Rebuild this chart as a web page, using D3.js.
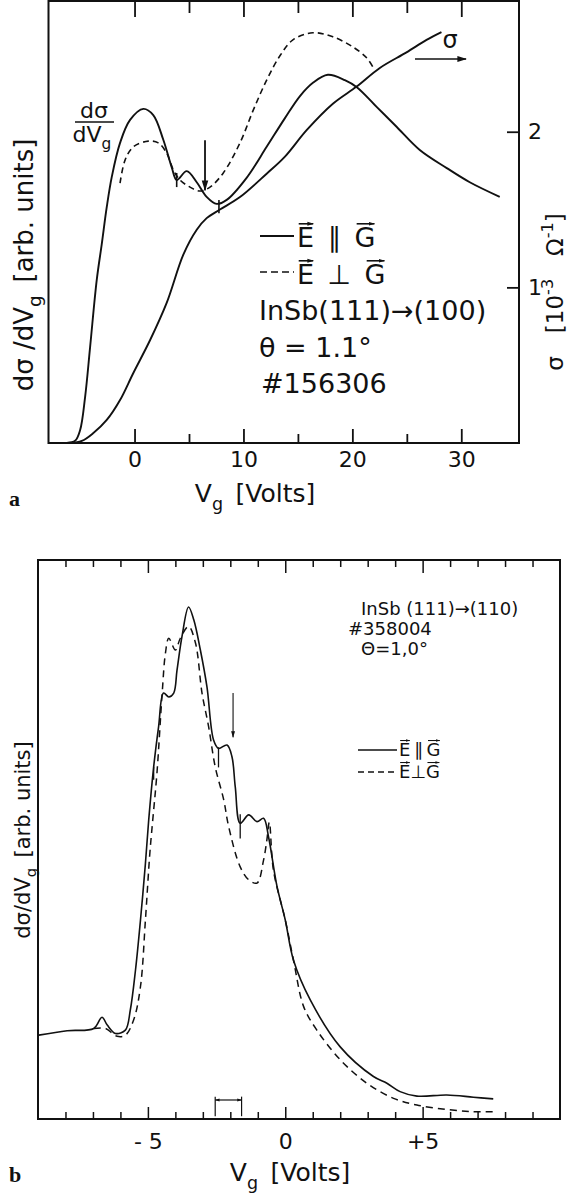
<!DOCTYPE html>
<html>
<head>
<meta charset="utf-8">
<script src="https://cdn.jsdelivr.net/npm/d3@7"></script>
<style>
  body { margin: 0; background: #fff; }
  svg text { font-family: "DejaVu Sans", "Liberation Sans", sans-serif; fill: #111; }
  .serif { font-family: "Liberation Serif", "DejaVu Serif", serif !important; font-weight: bold; }
</style>
</head>
<body>
<script>
// ---------- panel a : InSb(111)->(100), V_g in volts ----------
// dsigma/dV_g, E parallel G (arb. units)
const aParV = [-6.8, -6.38, -5.46, -5.0, -4.54, -4.08, -3.47, -3.01, -2.55, -2.09, -1.33, -0.41, 0.81, 1.72, 2.64, 3.41, 3.87, 4.79, 5.71, 6.62, 7.54, 8.46, 10.29, 12.13, 13.81, 15.19, 16.38, 17.75, 19.31, 20.41, 22.25, 24.08, 26.19, 28.67, 30.78, 33.53];
const aParD = [0, 0, 0.05, 0.29, 1.04, 2.17, 3.69, 4.5, 5.34, 6.02, 6.79, 7.31, 7.56, 7.42, 6.86, 6.24, 5.95, 6.15, 5.90, 5.57, 5.41, 5.50, 6.0, 6.7, 7.35, 7.85, 8.15, 8.33, 8.21, 8.05, 7.60, 7.15, 6.63, 6.22, 5.90, 5.57];
// dsigma/dV_g, E perpendicular G
const aPerpV = [-1.33, -0.87, -0.11, 1.27, 2.18, 2.95, 3.56, 4.17, 5.09, 6.01, 6.93, 8.15, 9.68, 10.90, 12.13, 13.35, 14.54, 16.38, 18.21, 20.05, 21.33, 21.88];
const aPerpD = [5.88, 6.40, 6.70, 6.83, 6.79, 6.56, 6.18, 5.95, 5.79, 5.70, 5.79, 6.11, 6.79, 7.53, 8.21, 8.76, 9.12, 9.28, 9.19, 8.96, 8.71, 8.51];
// sigma (10^-3 1/Ohm), right axis
const aSigV = [-5.92, -4.84, -3.78, -2.55, -1.33, -0.11, 1.42, 2.95, 4.48, 5.71, 6.62, 7.84, 9.68, 12.13, 13.81, 15.80, 18.21, 20.39, 22.52, 24.97, 26.81, 28.18];
const aSigS = [0, 0.013, 0.064, 0.148, 0.276, 0.45, 0.66, 0.90, 1.21, 1.37, 1.445, 1.50, 1.58, 1.73, 1.84, 2.01, 2.18, 2.29, 2.41, 2.51, 2.59, 2.64];
const aMajor = [0, 10, 20, 30];
const aMinor = [5, 15, 25];
const aSigTicks = [1, 2];
// marks on the curves: [V, upper, lower] in arb. units
const aArrows = [[6.47, 6.85, 5.72]];
const aMarks = [[3.87, 6.11, 5.79], [7.75, 5.5, 5.2]];

// ---------- panel b : InSb(111)->(110) ----------
const bParV = [-8.97, -7.94, -6.97, -6.67, -6.48, -6.18, -5.82, -5.64, -5.45, -5.27, -5.09, -4.97, -4.79, -4.61, -4.43, -4.24, -4.06, -3.94, -3.76, -3.52, -3.33, -3.09, -2.85, -2.61, -2.43, -2.12, -1.94, -1.82, -1.64, -1.33, -1.03, -0.79, -0.61, -0.30, 0, 0.30, 0.91, 2.0, 3.21, 3.70, 4.18, 4.79, 5.88, 6.85, 7.57];
const bParD = [1.50, 1.58, 1.62, 1.82, 1.68, 1.53, 1.59, 1.95, 2.67, 3.56, 4.57, 5.35, 6.30, 7.02, 7.62, 7.55, 7.62, 8.03, 8.63, 9.16, 8.93, 8.39, 7.73, 6.78, 6.63, 6.69, 6.48, 5.94, 5.29, 5.44, 5.32, 5.38, 5.05, 4.16, 3.56, 2.84, 2.13, 1.29, 0.76, 0.64, 0.49, 0.41, 0.43, 0.39, 0.36];
const bPerpV = [-6.97, -6.55, -6.12, -5.82, -5.52, -5.27, -5.09, -4.93, -4.84, -4.67, -4.48, -4.36, -4.24, -4.0, -3.82, -3.52, -3.27, -3.03, -2.79, -2.55, -2.24, -2.06, -1.64, -1.33, -1.03, -0.79, -0.67, -0.58, -0.43, 0, 0.30, 0.67, 1.15, 2.0, 2.97, 3.94, 4.79, 5.88, 6.85, 7.64];
const bPerpD = [1.62, 1.62, 1.48, 1.50, 1.77, 2.37, 3.56, 4.75, 5.26, 6.19, 7.62, 8.34, 8.60, 8.39, 8.60, 8.81, 8.52, 7.62, 7.02, 6.30, 5.71, 5.23, 4.51, 4.28, 4.22, 4.63, 4.99, 5.31, 4.45, 3.56, 2.84, 2.01, 1.59, 1.06, 0.64, 0.37, 0.25, 0.17, 0.13, 0.13];
const bMajor = [-5, 0, 5];
const bMinor = [-8, -7, -6, -4, -3, -2, -1, 1, 2, 3, 4, 6, 7, 8, 9];
const bArrows = [[-1.90, 7.62, 6.83]];
const bMarks = [[-2.43, 6.65, 6.29], [-1.64, 5.45, 5.02], [-4.79, 6.30, 6.07]];
const bBracket = [-2.55, -1.59, 0.34];

const W = 570, H = 1194;
const SP = "\u2002";
const svg = d3.select("body").append("svg").attr("width", W).attr("height", H);
svg.append("rect").attr("width", W).attr("height", H).attr("fill", "#fff");

let defs = svg.append("defs");
function addHead(id, w) {
    defs.append("marker").attr("id", id)
        .attr("viewBox", "0 0 10 10").attr("refX", 9).attr("refY", 5)
        .attr("markerWidth", w).attr("markerHeight", w)
        .attr("orient", "auto-start-reverse")
        .append("path").attr("d", "M0,2L10,5L0,8z").attr("fill", "#111");
}
addHead("head", 6);
addHead("vhead", 4);

const zip = (xs, ys) => xs.map((x, i) => [x, ys[i]]);

// text with sub / superscripts
function rich(text, parts, size) {
    let shift = 0;
    parts.forEach(p => {
        let t = text.append("tspan").text(p[0]);
        let want = p[1] === "sub" ? size * 0.3 : p[1] === "sup" ? -size * 0.45 : 0;
        if (want !== shift) { t.attr("dy", want - shift); shift = want; }
        if (p[1]) t.attr("font-size", size * 0.7);
    });
    return text;
}

// letters with a vector arrow above them
function vecText(g, x, y, size, parts, headId) {
    parts.forEach(p => {
        let t = g.append("text").attr("x", x).attr("y", y).attr("font-size", size).text(p.t);
        let w = t.node().getComputedTextLength();
        if (p.vec) {
            let ay = y - size * 0.86;
            g.append("line").attr("x1", x + w * 0.1).attr("x2", x + w * 0.95)
                .attr("y1", ay).attr("y2", ay)
                .attr("stroke", "#111").attr("stroke-width", Math.max(1, size * 0.06))
                .attr("marker-end", "url(#" + headId + ")");
        }
        x += w;
    });
}

function styleAxis(g, size) {
    g.select(".domain").remove();
    g.attr("font-family", null).attr("font-size", size);
    g.selectAll("line").attr("stroke", "#111").attr("stroke-width", 1.8);
    g.selectAll("text").attr("fill", "#111");
}

/* ============ panel a ============ */
const xA = d3.scaleLinear().domain([-7.9, 35.3]).range([48.5, 519]);
const yA = d3.scaleLinear().domain([0, 10]).range([443, 1]);
const sA = d3.scaleLinear().domain([0, 2.84]).range([443, 1]);
let ga = svg.append("g");

ga.append("g").attr("transform", "translate(0,443)")
    .call(d3.axisBottom(xA).tickValues(aMajor).tickSize(-14).tickPadding(8))
    .call(g => styleAxis(g, 22));
ga.append("g").attr("transform", "translate(0,443)")
    .call(d3.axisBottom(xA).tickValues(aMinor).tickSize(-9).tickFormat(""))
    .call(g => styleAxis(g, 22));
ga.append("g").attr("transform", "translate(0,1)")
    .call(d3.axisTop(xA).tickValues(aMajor).tickSize(-16).tickFormat(""))
    .call(g => styleAxis(g, 22));
ga.append("g").attr("transform", "translate(0,1)")
    .call(d3.axisTop(xA).tickValues(aMinor).tickSize(-12).tickFormat(""))
    .call(g => styleAxis(g, 22));
ga.append("g").attr("transform", "translate(519,0)")
    .call(d3.axisRight(sA).tickValues(aSigTicks).tickSize(-12).tickPadding(9).tickFormat(d3.format("d")))
    .call(g => styleAxis(g, 22));

ga.append("rect").attr("x", 48.5).attr("y", 1).attr("width", 519 - 48.5).attr("height", 442)
    .attr("fill", "none").attr("stroke", "#111").attr("stroke-width", 2);

let lineA = d3.line().x(d => xA(d[0])).y(d => yA(d[1])).curve(d3.curveCatmullRom.alpha(0.5));
let lineS = d3.line().x(d => xA(d[0])).y(d => sA(d[1])).curve(d3.curveCatmullRom.alpha(0.5));

ga.append("path").attr("d", lineA(zip(aParV, aParD)))
    .attr("fill", "none").attr("stroke", "#111").attr("stroke-width", 1.9);
ga.append("path").attr("d", lineA(zip(aPerpV, aPerpD)))
    .attr("fill", "none").attr("stroke", "#111").attr("stroke-width", 1.6).attr("stroke-dasharray", "6,4");
ga.append("path").attr("d", lineS(zip(aSigV, aSigS)))
    .attr("fill", "none").attr("stroke", "#111").attr("stroke-width", 1.9);

aArrows.forEach(a => {
    ga.append("line").attr("x1", xA(a[0])).attr("x2", xA(a[0]))
        .attr("y1", yA(a[1])).attr("y2", yA(a[2]))
        .attr("stroke", "#111").attr("stroke-width", 1.8).attr("marker-end", "url(#head)");
});
aMarks.forEach(m => {
    ga.append("line").attr("x1", xA(m[0])).attr("x2", xA(m[0]))
        .attr("y1", yA(m[1])).attr("y2", yA(m[2]))
        .attr("stroke", "#111").attr("stroke-width", 1.6);
});

// dsigma/dVg fraction next to the first peak
ga.append("text").attr("x", 94).attr("y", 118).attr("font-size", 22).attr("text-anchor", "middle").text("dσ");
ga.append("line").attr("x1", 75).attr("x2", 114).attr("y1", 122).attr("y2", 122)
    .attr("stroke", "#111").attr("stroke-width", 1.6);
rich(ga.append("text").attr("x", 92).attr("y", 142).attr("font-size", 22).attr("text-anchor", "middle"),
    [["dV"], ["g", "sub"]], 22);

// sigma -> right axis
ga.append("text").attr("x", 450).attr("y", 48).attr("font-size", 24).attr("text-anchor", "middle").text("σ");
ga.append("line").attr("x1", 415).attr("x2", 466).attr("y1", 59).attr("y2", 59)
    .attr("stroke", "#111").attr("stroke-width", 1.6).attr("marker-end", "url(#head)");

// legend
ga.append("line").attr("x1", 260).attr("x2", 294).attr("y1", 236).attr("y2", 236)
    .attr("stroke", "#111").attr("stroke-width", 1.9);
vecText(ga, 297, 247, 27, [{ t: "E", vec: true }, { t: SP + "∥" + SP }, { t: "G", vec: true }], "vhead");
ga.append("line").attr("x1", 260).attr("x2", 294).attr("y1", 272).attr("y2", 272)
    .attr("stroke", "#111").attr("stroke-width", 1.6).attr("stroke-dasharray", "7,4");
vecText(ga, 297, 284, 27, [{ t: "E", vec: true }, { t: SP + "⊥" + SP }, { t: "G", vec: true }], "vhead");
ga.append("text").attr("x", 259).attr("y", 320).attr("font-size", 27).text("InSb(111)→(100)");
ga.append("text").attr("x", 259).attr("y", 357).attr("font-size", 27).text("θ = 1.1°");
ga.append("text").attr("x", 261).attr("y", 393).attr("font-size", 27).text("#156306");

// axis titles
rich(ga.append("text").attr("font-size", 25).attr("text-anchor", "middle").attr("x", 255).attr("y", 502),
    [["V"], ["g", "sub"], [SP + "[Volts]"]], 25);
rich(ga.append("text").attr("font-size", 26).attr("text-anchor", "middle")
    .attr("transform", "translate(33,265) rotate(-90)"),
    [["dσ /dV"], ["g", "sub"], [SP + "[arb. units]"]], 26);
rich(ga.append("text").attr("font-size", 23).attr("text-anchor", "middle")
    .attr("transform", "translate(563,292) rotate(-90)"),
    [["σ" + SP + SP + "[10"], ["-3", "sup"], [SP + SP + "Ω"], ["-1", "sup"], ["]"]], 23);
ga.append("text").attr("class", "serif").attr("x", 9).attr("y", 506).attr("font-size", 22).text("a");

/* ============ panel b ============ */
const xB = d3.scaleLinear().domain([-9, 10]).range([38, 560]);
const yB = d3.scaleLinear().domain([0, 10]).range([1119, 560]);
let gb = svg.append("g");

const bFmt = d => d > 0 ? "+" + d : d < 0 ? "- " + Math.abs(d) : "0";
gb.append("g").attr("transform", "translate(0,1119)")
    .call(d3.axisBottom(xB).tickValues(bMajor).tickSize(-12).tickPadding(14).tickFormat(bFmt))
    .call(g => styleAxis(g, 22));
gb.append("g").attr("transform", "translate(0,1119)")
    .call(d3.axisBottom(xB).tickValues(bMinor).tickSize(-7).tickFormat(""))
    .call(g => styleAxis(g, 22));
gb.append("g").attr("transform", "translate(0,560)")
    .call(d3.axisTop(xB).tickValues(bMajor).tickSize(-13).tickFormat(""))
    .call(g => styleAxis(g, 22));
gb.append("g").attr("transform", "translate(0,560)")
    .call(d3.axisTop(xB).tickValues(bMinor).tickSize(-7).tickFormat(""))
    .call(g => styleAxis(g, 22));
gb.selectAll("line").attr("stroke-width", 1.5);

gb.append("rect").attr("x", 38).attr("y", 560).attr("width", 560 - 38).attr("height", 559)
    .attr("fill", "none").attr("stroke", "#111").attr("stroke-width", 2);

let lineB = d3.line().x(d => xB(d[0])).y(d => yB(d[1])).curve(d3.curveCatmullRom.alpha(0.5));
gb.append("path").attr("d", lineB(zip(bParV, bParD)))
    .attr("fill", "none").attr("stroke", "#111").attr("stroke-width", 1.6);
gb.append("path").attr("d", lineB(zip(bPerpV, bPerpD)))
    .attr("fill", "none").attr("stroke", "#111").attr("stroke-width", 1.5).attr("stroke-dasharray", "7,5");

bArrows.forEach(a => {
    gb.append("line").attr("x1", xB(a[0])).attr("x2", xB(a[0]))
        .attr("y1", yB(a[1])).attr("y2", yB(a[2]))
        .attr("stroke", "#111").attr("stroke-width", 1.1).attr("marker-end", "url(#head)");
});
bMarks.forEach(m => {
    gb.append("line").attr("x1", xB(m[0])).attr("x2", xB(m[0]))
        .attr("y1", yB(m[1])).attr("y2", yB(m[2]))
        .attr("stroke", "#111").attr("stroke-width", 1.3);
});
// resolution bracket
gb.append("line").attr("x1", xB(bBracket[0])).attr("x2", xB(bBracket[1]))
    .attr("y1", yB(bBracket[2])).attr("y2", yB(bBracket[2]))
    .attr("stroke", "#111").attr("stroke-width", 1.2)
    .attr("marker-start", "url(#vhead)").attr("marker-end", "url(#vhead)");
[bBracket[0], bBracket[1]].forEach(v => {
    gb.append("line").attr("x1", xB(v)).attr("x2", xB(v))
        .attr("y1", yB(bBracket[2] + 0.06)).attr("y2", yB(0.05))
        .attr("stroke", "#111").attr("stroke-width", 1.2);
});

// legend and sample info
gb.append("text").attr("x", 361).attr("y", 615).attr("font-size", 18).text("InSb (111)→(110)");
gb.append("text").attr("x", 348).attr("y", 635).attr("font-size", 18).text("#358004");
gb.append("text").attr("x", 361).attr("y", 655).attr("font-size", 18).text("Θ=1,0°");
gb.append("line").attr("x1", 358).attr("x2", 397).attr("y1", 750).attr("y2", 750)
    .attr("stroke", "#111").attr("stroke-width", 1.5);
vecText(gb, 399, 756, 18, [{ t: "E", vec: true }, { t: "\u2009∥\u2009" }, { t: "G", vec: true }], "vhead");
gb.append("line").attr("x1", 358).attr("x2", 397).attr("y1", 772).attr("y2", 772)
    .attr("stroke", "#111").attr("stroke-width", 1.5).attr("stroke-dasharray", "6,4");
vecText(gb, 399, 778, 18, [{ t: "E", vec: true }, { t: "⊥" }, { t: "G", vec: true }], "vhead");

rich(gb.append("text").attr("font-size", 25).attr("text-anchor", "middle").attr("x", 290).attr("y", 1181),
    [["V"], ["g", "sub"], [SP + "[Volts]"]], 25);
rich(gb.append("text").attr("font-size", 21).attr("text-anchor", "middle")
    .attr("transform", "translate(30,840) rotate(-90)"),
    [["dσ/dV"], ["g", "sub"], [SP + "[arb. units]"]], 21);
gb.append("text").attr("class", "serif").attr("x", 9).attr("y", 1182).attr("font-size", 22).text("b");
</script>
</body>
</html>
